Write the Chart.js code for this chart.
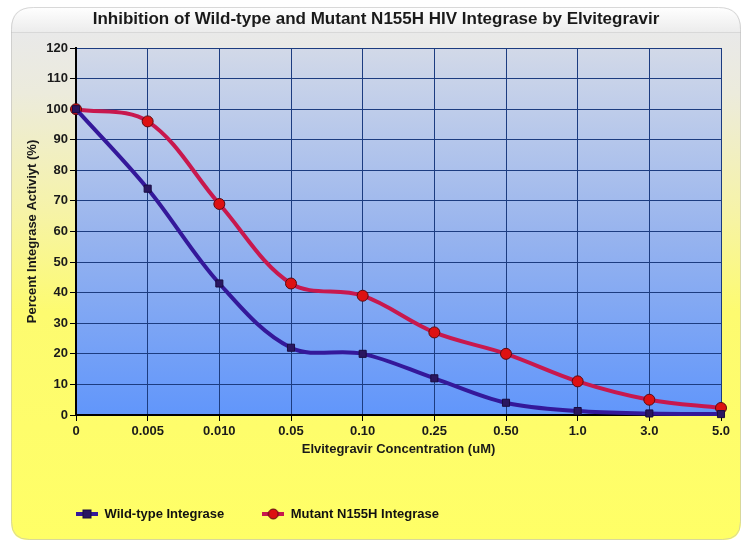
<!DOCTYPE html>
<html>
<head>
<meta charset="utf-8">
<script src="https://cdn.jsdelivr.net/npm/chart.js@4.4.1/dist/chart.umd.min.js"></script>
<style>
  html, body { margin: 0; padding: 0; background: #ffffff; }
  #wrap { width: 746px; height: 541px; position: relative; }
</style>
</head>
<body>
<div id="wrap"><canvas id="c" width="746" height="541"></canvas></div>
<script>
// ---- data ----
const categories = ['0', '0.005', '0.010', '0.05', '0.10', '0.25', '0.50', '1.0', '3.0', '5.0'];
const wildType = [100, 74, 43, 22, 20, 12, 4, 1.3, 0.5, 0.3];
const mutant = [100, 96, 69, 43, 39, 27, 20, 11, 5, 2.3];
const seriesNames = ['Wild-type Integrase', 'Mutant N155H Integrase'];
const yMin = 0, yMax = 120, yStep = 10;
const chartTitle = 'Inhibition of Wild-type and Mutant N155H HIV Integrase by Elvitegravir';
const xTitle = 'Elvitegravir Concentration (uM)';
const yTitle = 'Percent Integrase Activiyt (%)';

// ---- styles ----
const WILD_LINE = '#34189a';
const WILD_PT = '#2a1660';
const MUT_LINE = '#c8184e';
const MUT_PT = '#dd1111';
const FONT = "'Liberation Sans', Arial, Helvetica, sans-serif";
const NARROW = "'Liberation Sans Narrow', 'Arial Narrow', 'Liberation Sans', Arial, sans-serif";

function legendIcon(lineColor, ptColor, ptBorder, shape) {
  const c = document.createElement('canvas');
  c.width = 22; c.height = 12;
  const g = c.getContext('2d');
  g.strokeStyle = lineColor; g.lineWidth = 4;
  g.beginPath(); g.moveTo(0, 6); g.lineTo(22, 6); g.stroke();
  g.fillStyle = ptColor; g.strokeStyle = ptBorder; g.lineWidth = 1;
  if (shape === 'rect') {
    g.fillRect(7, 2, 8, 8); g.strokeRect(7, 2, 8, 8);
  } else {
    g.beginPath(); g.arc(11, 6, 5, 0, Math.PI * 2); g.fill(); g.stroke();
  }
  return c;
}
const icons = [legendIcon(WILD_LINE, WILD_PT, '#1a0c40', 'rect'), legendIcon(MUT_LINE, MUT_PT, '#5a0a10', 'circle')];

function roundTopRect(ctx, x, y, w, h, r, rb) {
  ctx.beginPath();
  ctx.moveTo(x + r, y);
  ctx.lineTo(x + w - r, y);
  ctx.quadraticCurveTo(x + w, y, x + w, y + r);
  ctx.lineTo(x + w, y + h - rb);
  ctx.quadraticCurveTo(x + w, y + h, x + w - rb, y + h);
  ctx.lineTo(x + rb, y + h);
  ctx.quadraticCurveTo(x, y + h, x, y + h - rb);
  ctx.lineTo(x, y + r);
  ctx.quadraticCurveTo(x, y, x + r, y);
  ctx.closePath();
}

const bgPlugin = {
  id: 'bg',
  afterLayout(chart) {
    const lg = chart.legend;
    const P = lg.options.labels.padding;
    const w = lg.width, h = lg.height;
    lg.left = 76 - P; lg.right = lg.left + w;
    lg.top = 514 - P - 6.5; lg.bottom = lg.top + h;
  },
  beforeDraw(chart) {
    const ctx = chart.ctx;
    const W = chart.width, H = chart.height;
    ctx.save();
    ctx.fillStyle = '#ffffff';
    ctx.fillRect(0, 0, W, H);
    // card
    const g = ctx.createLinearGradient(0, 32, 0, H);
    g.addColorStop(0, '#e9e9e9');
    g.addColorStop(0.12, '#ecebdc');
    g.addColorStop(0.35, '#f6f3a8');
    g.addColorStop(0.55, '#fdfb70');
    g.addColorStop(1, '#ffff66');
    roundTopRect(ctx, 11, 7, 730, 533, 22, 18);
    ctx.fillStyle = g;
    ctx.fill();
    // title tab
    ctx.save();
    roundTopRect(ctx, 11, 7, 730, 533, 22, 18);
    ctx.clip();
    const tg = ctx.createLinearGradient(0, 7, 0, 32);
    tg.addColorStop(0, '#ffffff');
    tg.addColorStop(1, '#ececec');
    ctx.fillStyle = tg;
    ctx.fillRect(11, 7, 730, 25);
    ctx.strokeStyle = '#d8d8d8';
    ctx.lineWidth = 1;
    ctx.beginPath(); ctx.moveTo(11, 32.5); ctx.lineTo(741, 32.5); ctx.stroke();
    ctx.restore();
    roundTopRect(ctx, 11.5, 7.5, 729, 532, 22, 18);
    ctx.strokeStyle = 'rgba(190,190,190,0.6)';
    ctx.lineWidth = 1;
    ctx.stroke();
    // plot area gradient
    const a = chart.chartArea;
    const pg = ctx.createLinearGradient(0, a.top, 0, a.bottom);
    pg.addColorStop(0, '#d2d9e8');
    pg.addColorStop(0.5, '#98b4ee');
    pg.addColorStop(1, '#6196fb');
    ctx.fillStyle = pg;
    ctx.fillRect(a.left, a.top, a.right - a.left, a.bottom - a.top);
    ctx.restore();
  }
};

new Chart(document.getElementById('c'), {
  type: 'line',
  data: {
    labels: categories,
    datasets: [
      {
        label: seriesNames[0], data: wildType,
        borderColor: WILD_LINE, borderWidth: 4, tension: 0.35,
        pointStyle: 'rect', pointRadius: 5, pointBackgroundColor: WILD_PT,
        pointBorderColor: '#1a0c40', pointBorderWidth: 1, clip: 12
      },
      {
        label: seriesNames[1], data: mutant,
        borderColor: MUT_LINE, borderWidth: 4, tension: 0.35,
        pointStyle: 'circle', pointRadius: 5.5, pointBackgroundColor: MUT_PT,
        pointBorderColor: '#5a0a10', pointBorderWidth: 1, clip: 12
      }
    ]
  },
  options: {
    responsive: false,
    animation: false,
    layout: { padding: { left: 31, right: 25, top: 0, bottom: 15 } },
    plugins: {
      tooltip: { enabled: false },
      title: {
        display: true, text: chartTitle, color: '#1a1a1a',
        font: { family: NARROW, size: 17, weight: 'bold', lineHeight: 1.2 },
        padding: { top: 9.5, bottom: 18.1 }
      },
      legend: {
        position: 'bottom', align: 'start',
        labels: {
          usePointStyle: true, pointStyleWidth: 22, padding: 38,
          color: '#111111', font: { family: FONT, size: 13, weight: 'bold' },
          generateLabels(chart) {
            const items = Chart.defaults.plugins.legend.labels.generateLabels(chart);
            items.forEach((it, i) => { it.pointStyle = icons[i]; });
            return items;
          }
        }
      }
    },
    scales: {
      x: {
        type: 'category', offset: false,
        afterFit(s) { s.height = 50; },
        grid: { color: '#1c3c80', lineWidth: 1, tickColor: '#000000', tickLength: 6, offset: false },
        border: { color: '#000000', width: 2 },
        ticks: { color: '#1a1a1a', padding: 3, maxRotation: 0, autoSkip: false, font: { family: FONT, size: 13, weight: 'bold' } },
        title: { display: true, text: xTitle, color: '#1a1a1a', padding: { top: 0, bottom: 8 }, font: { family: FONT, size: 13, weight: 'bold', lineHeight: 1.2 } }
      },
      y: {
        min: yMin, max: yMax,
        afterFit(s) { s.width = 45; },
        grid: { color: '#1c3c80', lineWidth: 1, tickColor: '#000000', tickLength: 6 },
        border: { color: '#000000', width: 2 },
        ticks: { stepSize: yStep, color: '#1a1a1a', padding: 2, font: { family: FONT, size: 13, weight: 'bold' } },
        title: { display: true, text: yTitle, color: '#1a1a1a', padding: { top: -6.8, bottom: 0 }, font: { family: FONT, size: 13, weight: 'bold', lineHeight: 1.2 } }
      }
    }
  },
  plugins: [bgPlugin]
});
</script>
</body>
</html>
